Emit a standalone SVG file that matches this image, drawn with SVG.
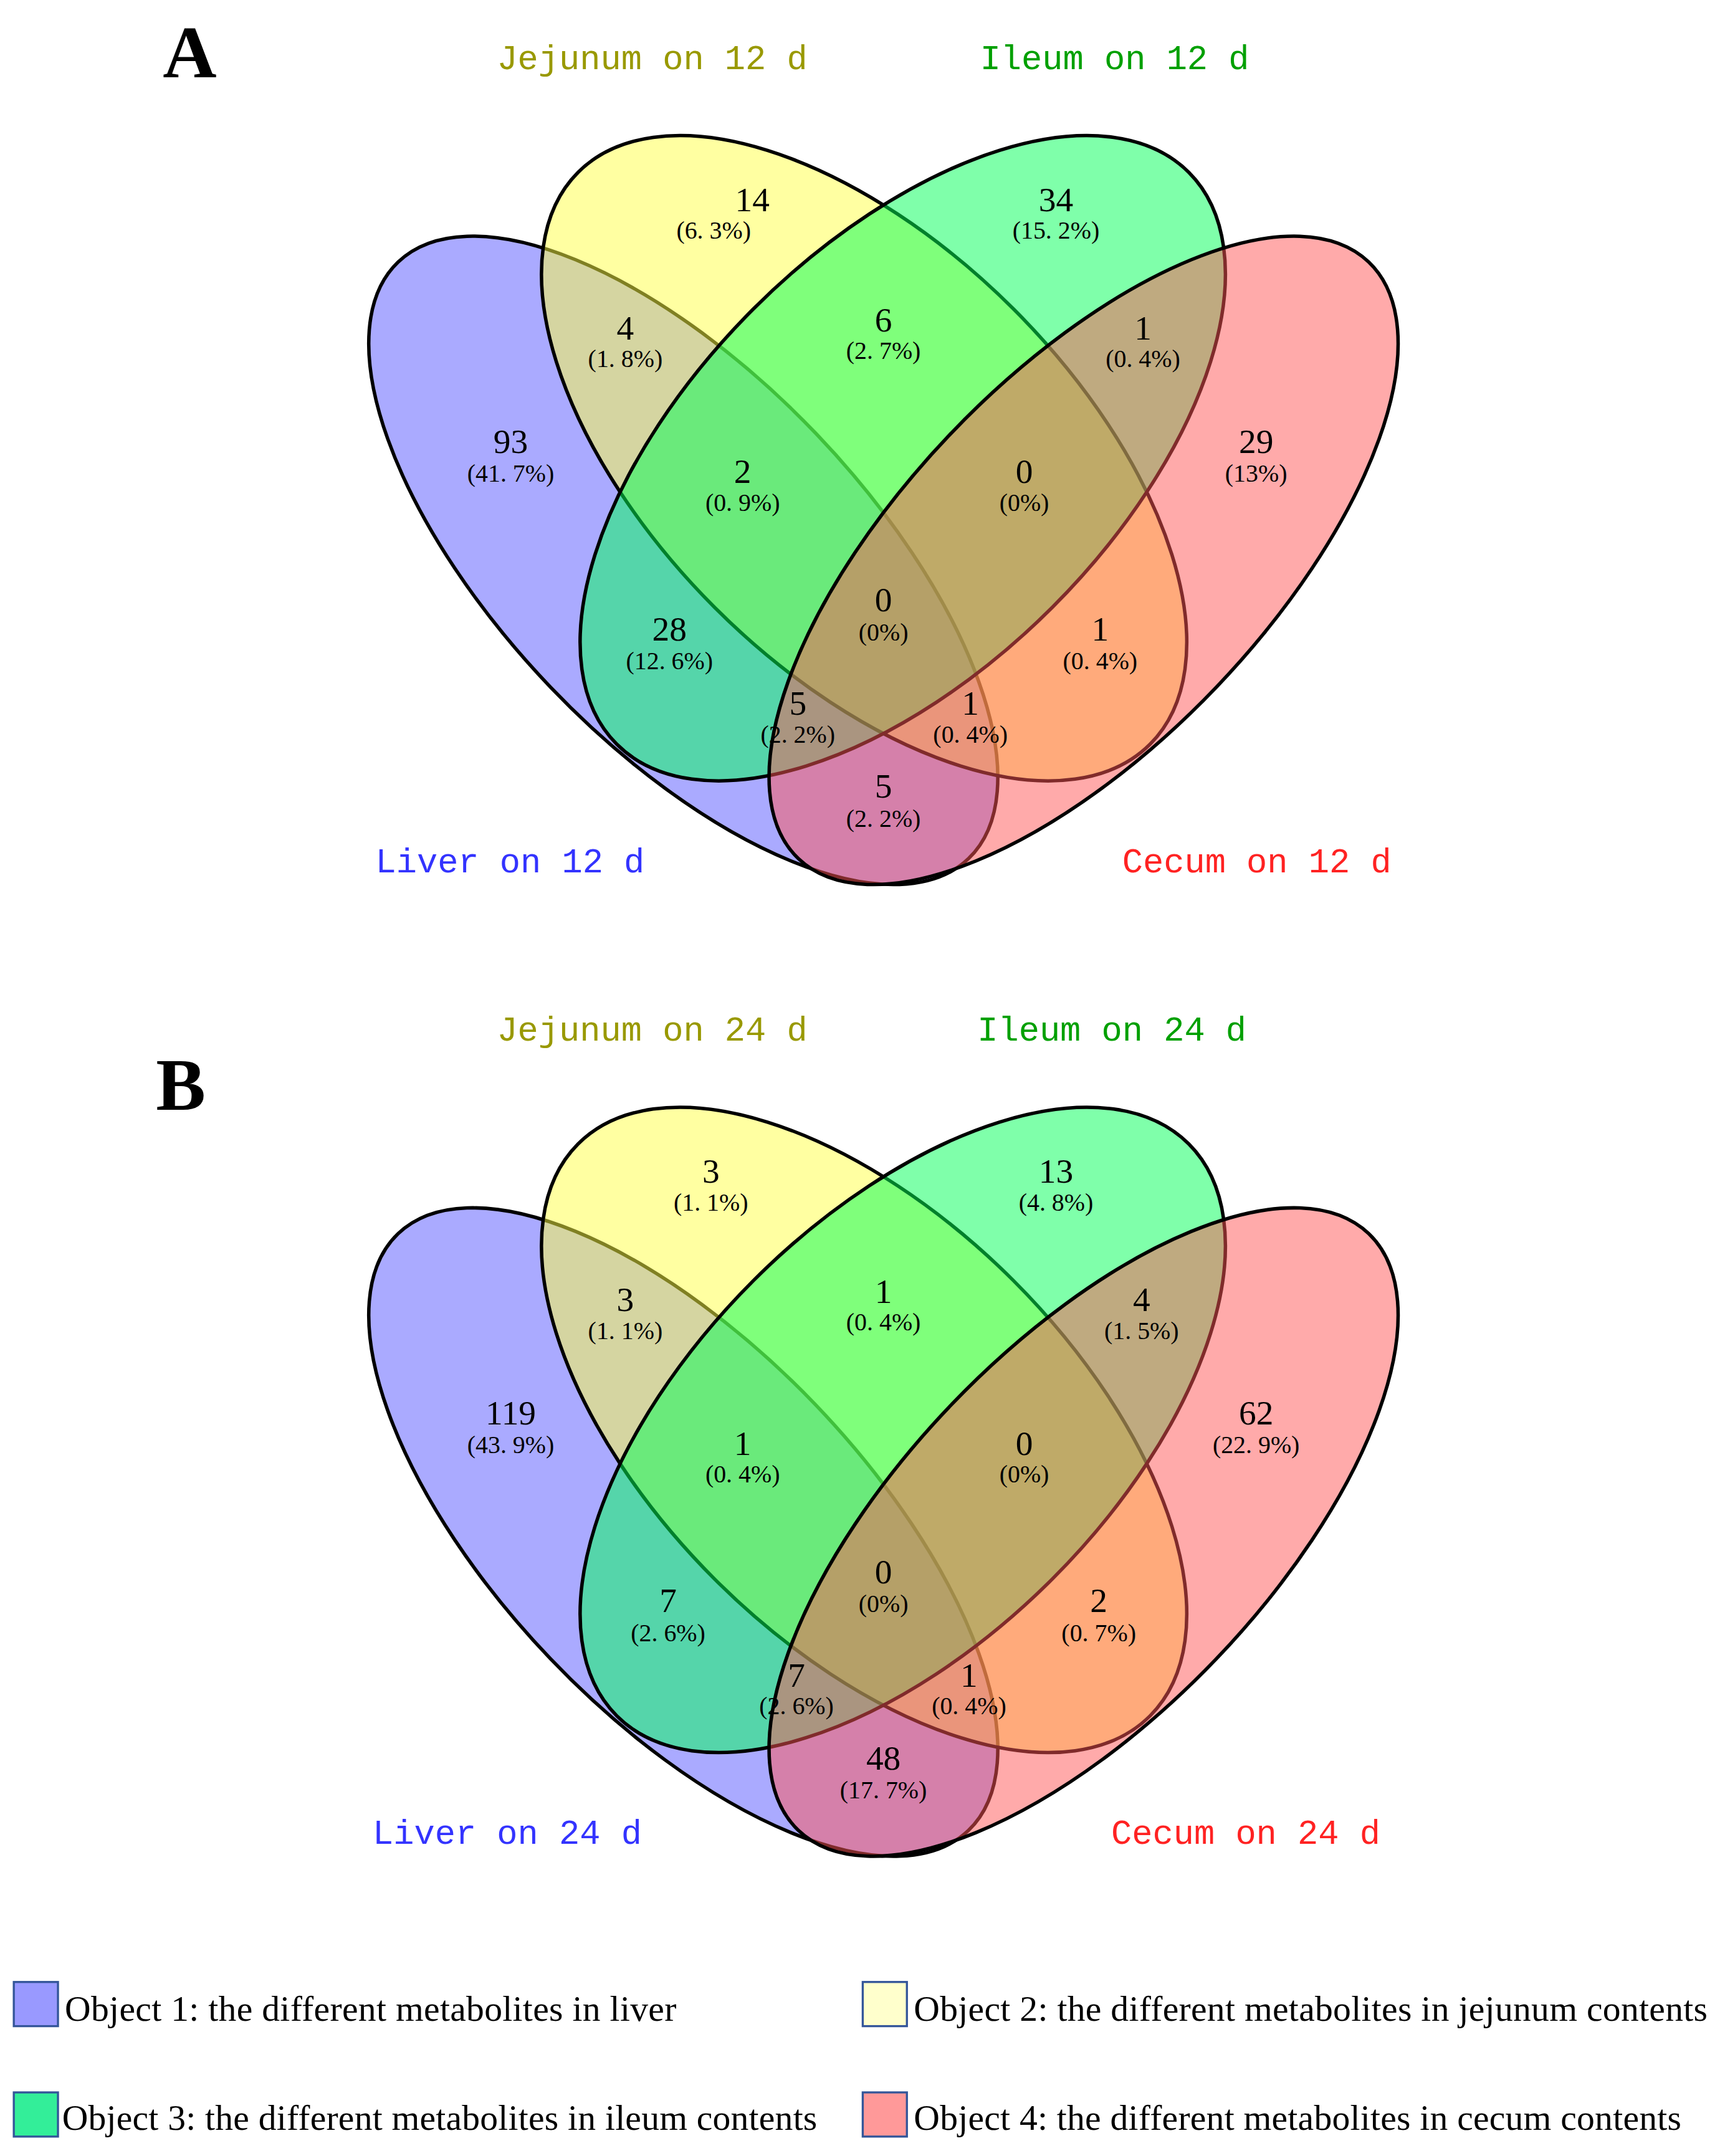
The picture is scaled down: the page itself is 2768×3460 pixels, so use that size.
<svg xmlns="http://www.w3.org/2000/svg" width="2768" height="3460" viewBox="0 0 2768 3460">
<style>
.e{stroke:#000;stroke-width:2.5;fill-opacity:0.5}
.bl{fill:#5555ff}.ye{fill:#ffff44}.gr{fill:#00ff55}.rd{fill:#ff5555}
.n{font-family:"Liberation Serif",serif;font-size:25px;text-anchor:middle;fill:#000}
.p{font-family:"Liberation Serif",serif;font-size:18px;text-anchor:middle;fill:#000}
.lab{font-family:"Liberation Mono",monospace;font-size:25px}
.big{font-family:"Liberation Serif",serif;font-size:54px;font-weight:bold}
.lg{font-family:"Liberation Serif",serif;font-size:26px}
.bx{stroke:#335599;stroke-width:1.5}
</style>
<rect width="2768" height="3460" fill="#fff"/>
<g transform="scale(2.215)">
<defs>
<g id="venn">
<ellipse class="e bl" cx="495" cy="406" rx="299" ry="133" transform="rotate(46.3 495 406)"/>
<ellipse class="e ye" cx="626" cy="332" rx="293" ry="153" transform="rotate(45 626 332)"/>
<ellipse class="e gr" cx="654" cy="332" rx="293" ry="153" transform="rotate(-45 654 332)"/>
<ellipse class="e rd" cx="785" cy="406" rx="299" ry="133" transform="rotate(-46.3 785 406)"/>
</g>
</defs>
<g id="venn-A"><use href="#venn"/></g>
<g id="venn-B"><use href="#venn" y="704"/></g>
<g id="labels-A">
<text class="big" x="118" y="56">A</text>
<text class="lab" x="360" y="50" fill="#999900">Jejunum on 12 d</text>
<text class="lab" x="710" y="50" fill="#00a000">Ileum on 12 d</text>
<text class="lab" x="272" y="632" fill="#3333ff">Liver on 12 d</text>
<text class="lab" x="813" y="632" fill="#ff2222">Cecum on 12 d</text>
<text class="n" x="545" y="153">14</text><text class="p" x="517" y="173">(6. 3%)</text>
<text class="n" x="765" y="153">34</text><text class="p" x="765" y="173">(15. 2%)</text>
<text class="n" x="453" y="246">4</text><text class="p" x="453" y="266">(1. 8%)</text>
<text class="n" x="640" y="240">6</text><text class="p" x="640" y="260">(2. 7%)</text>
<text class="n" x="828" y="246">1</text><text class="p" x="828" y="266">(0. 4%)</text>
<text class="n" x="370" y="328">93</text><text class="p" x="370" y="349">(41. 7%)</text>
<text class="n" x="538" y="350">2</text><text class="p" x="538" y="370">(0. 9%)</text>
<text class="n" x="742" y="350">0</text><text class="p" x="742" y="370">(0%)</text>
<text class="n" x="910" y="328">29</text><text class="p" x="910" y="349">(13%)</text>
<text class="n" x="640" y="443">0</text><text class="p" x="640" y="464">(0%)</text>
<text class="n" x="485" y="464">28</text><text class="p" x="485" y="485">(12. 6%)</text>
<text class="n" x="797" y="464">1</text><text class="p" x="797" y="485">(0. 4%)</text>
<text class="n" x="578" y="518">5</text><text class="p" x="578" y="538">(2. 2%)</text>
<text class="n" x="703" y="518">1</text><text class="p" x="703" y="538">(0. 4%)</text>
<text class="n" x="640" y="578">5</text><text class="p" x="640" y="599">(2. 2%)</text>
</g>
<g id="labels-B">
<text class="big" x="113" y="804">B</text>
<text class="lab" x="360" y="754" fill="#999900">Jejunum on 24 d</text>
<text class="lab" x="708" y="754" fill="#00a000">Ileum on 24 d</text>
<text class="lab" x="270" y="1336" fill="#3333ff">Liver on 24 d</text>
<text class="lab" x="805" y="1336" fill="#ff2222">Cecum on 24 d</text>
<text class="n" x="515" y="857">3</text><text class="p" x="515" y="877">(1. 1%)</text>
<text class="n" x="765" y="857">13</text><text class="p" x="765" y="877">(4. 8%)</text>
<text class="n" x="453" y="950">3</text><text class="p" x="453" y="970">(1. 1%)</text>
<text class="n" x="640" y="944">1</text><text class="p" x="640" y="964">(0. 4%)</text>
<text class="n" x="827" y="950">4</text><text class="p" x="827" y="970">(1. 5%)</text>
<text class="n" x="370" y="1032">119</text><text class="p" x="370" y="1053">(43. 9%)</text>
<text class="n" x="538" y="1054">1</text><text class="p" x="538" y="1074">(0. 4%)</text>
<text class="n" x="742" y="1054">0</text><text class="p" x="742" y="1074">(0%)</text>
<text class="n" x="910" y="1032">62</text><text class="p" x="910" y="1053">(22. 9%)</text>
<text class="n" x="640" y="1147">0</text><text class="p" x="640" y="1168">(0%)</text>
<text class="n" x="484" y="1168">7</text><text class="p" x="484" y="1189">(2. 6%)</text>
<text class="n" x="796" y="1168">2</text><text class="p" x="796" y="1189">(0. 7%)</text>
<text class="n" x="577" y="1222">7</text><text class="p" x="577" y="1242">(2. 6%)</text>
<text class="n" x="702" y="1222">1</text><text class="p" x="702" y="1242">(0. 4%)</text>
<text class="n" x="640" y="1282">48</text><text class="p" x="640" y="1303">(17. 7%)</text>
</g>
<g id="legend">
<rect class="bx" x="10" y="1436" width="32" height="32" fill="#9999ff"/>
<text class="lg" x="47" y="1464" textLength="443">Object 1: the different metabolites in liver</text>
<rect class="bx" x="625" y="1436" width="32" height="32" fill="#ffffcc"/>
<text class="lg" x="662" y="1464" textLength="575">Object 2: the different metabolites in jejunum contents</text>
<rect class="bx" x="10" y="1516" width="32" height="32" fill="#33ee99"/>
<text class="lg" x="45" y="1543" textLength="547">Object 3: the different metabolites in ileum contents</text>
<rect class="bx" x="625" y="1516" width="32" height="32" fill="#ff9999"/>
<text class="lg" x="662" y="1543" textLength="556">Object 4: the different metabolites in cecum contents</text>
</g>
</g>
</svg>
